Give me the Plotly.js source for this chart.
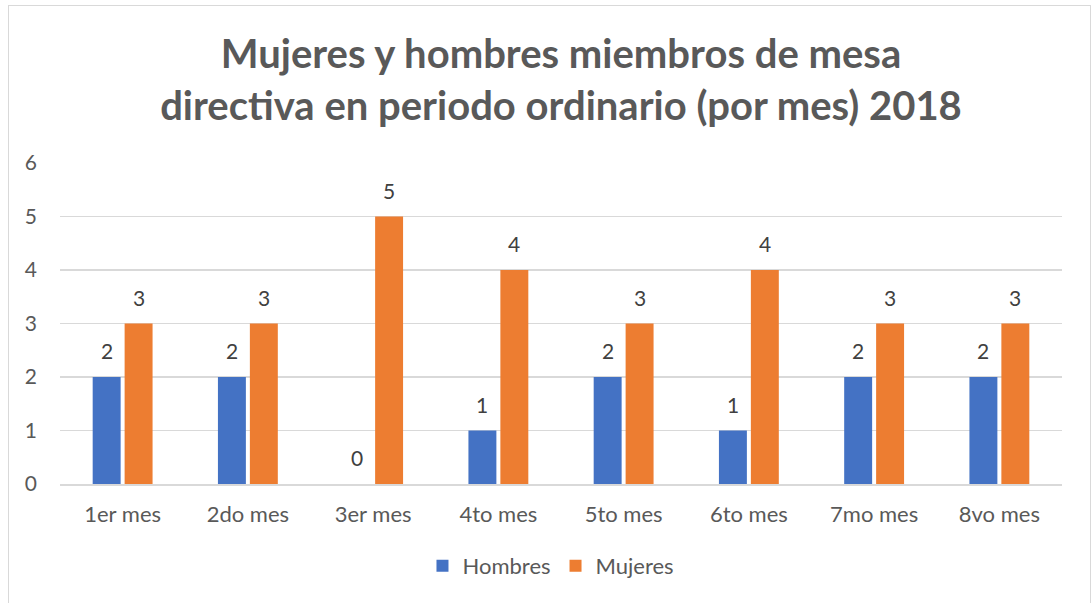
<!DOCTYPE html>
<html>
<head>
<meta charset="utf-8">
<script src="https://cdn.plot.ly/plotly-3.0.1.min.js"></script>
<style>
  html, body { margin: 0; padding: 0; background: #ffffff; }
  #wrap { position: relative; width: 1092px; height: 603px; overflow: hidden; }
  #chart { width: 1092px; height: 603px; }
  #frame { position: absolute; left: 8px; top: 5px; width: 1081px; height: 610px;
           border: 1px solid #d9d9d9; pointer-events: none; }
</style>
</head>
<body>
<div id="wrap">
  <div id="chart"></div>
  <div id="frame"></div>
</div>
<script>
const categories = ["1er mes", "2do mes", "3er mes", "4to mes", "5to mes", "6to mes", "7mo mes", "8vo mes"];
const hombres = [2, 2, 0, 1, 2, 1, 2, 2];
const mujeres = [3, 3, 5, 4, 3, 4, 3, 3];
const seriesNames = ["Hombres", "Mujeres"];
const yTicks = [0, 1, 2, 3, 4, 5, 6];
const titleText = "Mujeres y hombres miembros de mesa<br>directiva en periodo ordinario (por mes) 2018";

const font = "Lato, 'Open Sans', sans-serif";
const BARGAP = 0.49;
const BARGROUPGAP = 0.125;

const traces = [
  { type: "bar", name: seriesNames[0], x: categories, y: hombres,
    marker: { color: "#4472c4" }, hoverinfo: "x+y" },
  { type: "bar", name: seriesNames[1], x: categories, y: mujeres,
    marker: { color: "#ed7d31" }, hoverinfo: "x+y" }
];

// data labels placed at each bar's value, offset by the bar slot within the group
const slot = (1 - BARGAP) / 2;
const annotations = [];
[hombres, mujeres].forEach((vals, s) => {
  const off = (s === 0 ? -1 : 1) * slot / 2;
  vals.forEach((v, i) => {
    annotations.push({
      x: i + off, y: v, xref: "x", yref: "y",
      text: String(v), showarrow: false, yanchor: "bottom", yshift: 12,
      font: { family: font, size: 21, color: "#404040" }
    });
  });
});

const layout = {
  width: 1092, height: 603,
  margin: { l: 60, r: 30, t: 163, b: 119 },
  paper_bgcolor: "#ffffff", plot_bgcolor: "#ffffff",
  font: { family: font, color: "#595959", size: 22 },
  title: { text: titleText, x: 0.5, xanchor: "center", xref: "paper",
           y: 1 - 68 / 603, yanchor: "middle",
           font: { family: font, size: 40, color: "#595959", weight: "bold" } },
  barmode: "group", bargap: BARGAP, bargroupgap: BARGROUPGAP,
  xaxis: { showgrid: false, showline: true, linecolor: "#d9d9d9", linewidth: 2,
           ticks: "", tickfont: { family: font, size: 22, color: "#595959" },
           ticklabelstandoff: 10, fixedrange: true },
  yaxis: { range: [0, 6], tickvals: yTicks, ticktext: yTicks.map(String),
           showgrid: true, gridcolor: "#d9d9d9", gridwidth: 1.5,
           zeroline: false, showline: false, ticks: "",
           tickfont: { family: font, size: 21, color: "#595959" },
           ticklabelstandoff: 22, fixedrange: true },
  annotations: annotations,
  showlegend: true,
  legend: { orientation: "h", x: 0.49, xanchor: "center", y: -0.255, yanchor: "middle",
            font: { family: font, size: 22, color: "#595959" }, itemwidth: 30, traceorder: "normal" }
};

Plotly.newPlot("chart", traces, layout, { displayModeBar: false, staticPlot: true });
</script>
</body>
</html>
